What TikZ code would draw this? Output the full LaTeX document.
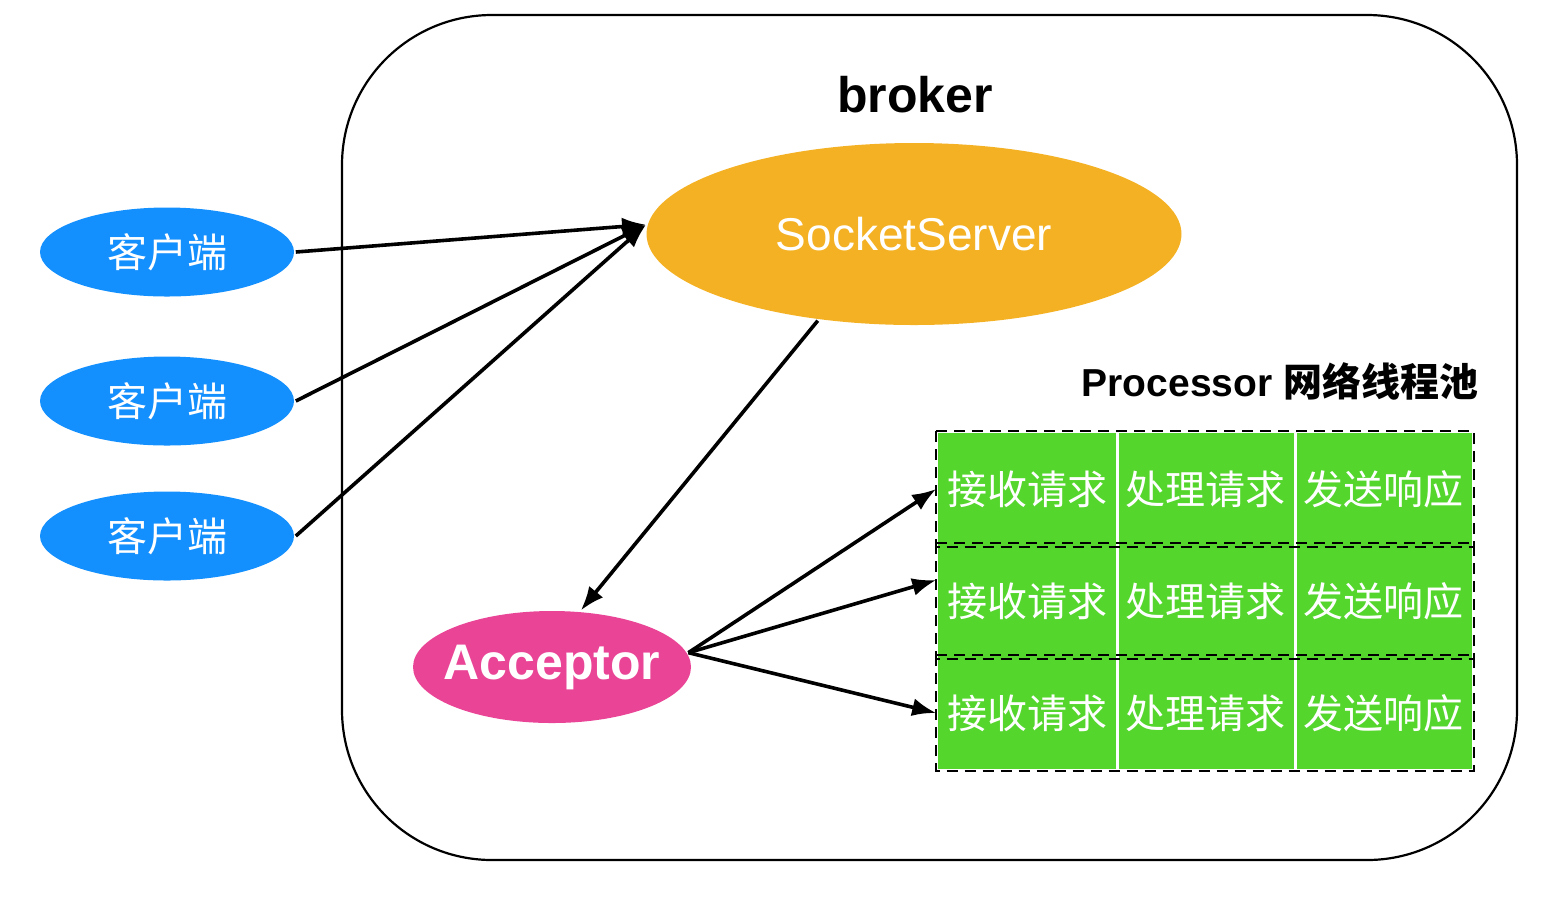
\documentclass[tikz,border=0pt]{standalone}
\usepackage{fontspec}
\setmainfont{Liberation Sans}
\newfontfamily\cjk{Noto Sans CJK SC}
\usetikzlibrary{arrows.meta,shapes.geometric}
\usepackage{xcolor}
\definecolor{clientblue}{RGB}{20,143,254}
\definecolor{serverorange}{RGB}{244,177,35}
\definecolor{acceptorpink}{RGB}{233,68,150}
\definecolor{procgreen}{RGB}{84,214,45}

\begin{document}
\begin{tikzpicture}[x=0.5pt,y=-0.5pt,-{Latex[length=12pt,width=9pt]},line width=1.8pt,
  client/.style={ellipse,fill=clientblue,text=white,inner sep=0pt,minimum width=127pt,minimum height=44.5pt,font=\cjk\fontsize{20}{24}\selectfont},
  server/.style={ellipse,fill=serverorange,text=white,inner sep=0pt,minimum width=267.5pt,minimum height=91pt,font=\fontsize{23}{28}\selectfont},
  acceptor/.style={ellipse,fill=acceptorpink,text=white,inner sep=0pt,inner xsep=-10pt,minimum width=139pt,minimum height=56pt,font=\bfseries\fontsize{25}{30}\selectfont},
  cell/.style={rectangle,fill=procgreen,text=white,inner sep=0pt,minimum width=89pt,minimum height=56pt,node distance=89pt,font=\cjk\fontsize{20}{24}\selectfont},
  rowframe/.style={-,draw=black,line width=1pt,dash pattern=on 5.5pt off 3.5pt},
  sep/.style={-,draw=white,line width=1.5pt}]
  \useasboundingbox (0,0) rectangle (1552,896);

  \node[draw=black,line width=1.1pt,rounded corners=75pt,minimum width=587.5pt,minimum height=422.5pt] (broker) at (929.5,437.5) {};
  \node[font=\bfseries\fontsize{25}{30}\selectfont] (title) at (915,95) {broker};

  \node[server]   (ss)  at (914,234) {SocketServer};
  \node[client]   (c1)  at (167,252) {客户端};
  \node[client]   (c2)  at (167,401) {客户端};
  \node[client]   (c3)  at (167,536) {客户端};
  \node[acceptor] (acc) at (552,667) {Acceptor};

  \node[font=\bfseries\fontsize{19.5}{24}\selectfont] (pool) at (1280,381) {Processor {\cjk 网络线程池}};

  \node[cell] (r1a) at (1027,489)                      {接收请求};
  \node[cell] (r1b) [right of=r1a]                     {处理请求};
  \node[cell] (r1c) [right of=r1b]                     {发送响应};
  \node[cell] (r2a) [node distance=56pt,below of=r1a]  {接收请求};
  \node[cell] (r2b) [right of=r2a]                     {处理请求};
  \node[cell] (r2c) [right of=r2b]                     {发送响应};
  \node[cell] (r3a) [node distance=56pt,below of=r2a]  {接收请求};
  \node[cell] (r3b) [right of=r3a]                     {处理请求};
  \node[cell] (r3c) [right of=r3b]                     {发送响应};

  \draw[sep] (r1a.north east) -- (r3a.south east);
  \draw[sep] (r1b.north east) -- (r3b.south east);
  \draw[rowframe] (r1a.north west) rectangle (r1c.south east);
  \draw[rowframe] (r2a.north west) rectangle (r2c.south east);
  \draw[rowframe] (r3a.north west) rectangle (r3c.south east);

  \path (c1.east) edge (ss.178)
        (c2.east) edge (ss.178)
        (c3.east) edge (ss.178)
        (ss.222)  edge (acc.63)
        (acc.6)   edge (r1a.west)
        (acc.6)   edge (r2a.167)
        (acc.6)   edge (r3a.west);
\end{tikzpicture}
\end{document}
